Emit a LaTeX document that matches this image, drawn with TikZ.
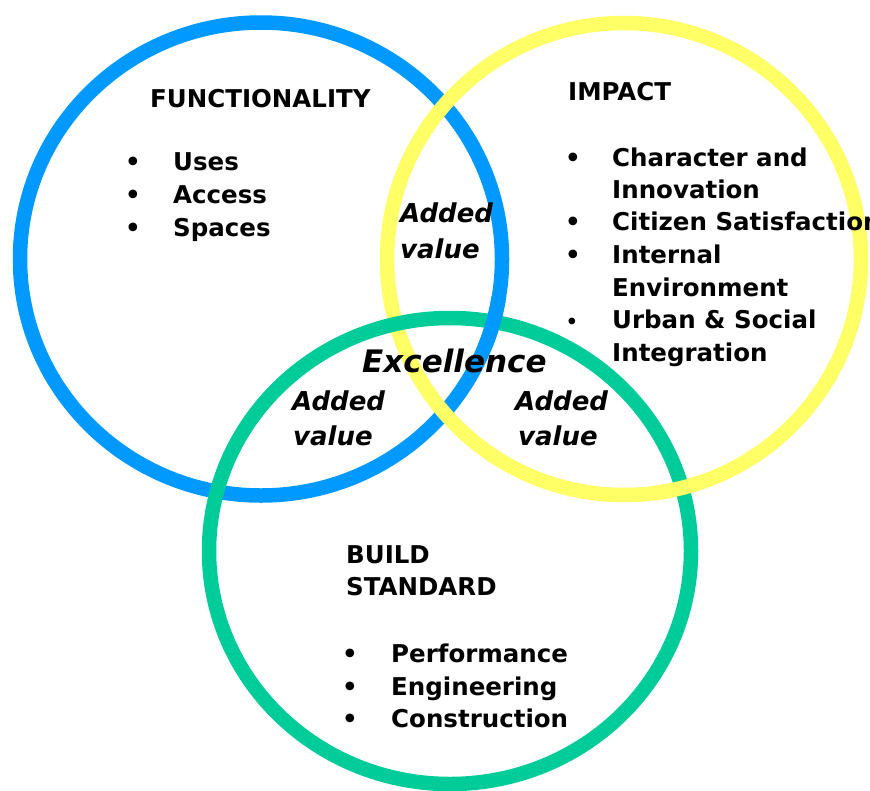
\documentclass[tikz,border=0pt]{standalone}
\usepackage{fontspec}
\setmainfont{DejaVu Sans}
\definecolor{ringblue}{RGB}{0,153,255}
\definecolor{ringyellow}{RGB}{255,255,102}
\definecolor{ringgreen}{RGB}{0,204,153}
\tikzset{
  ring/.style={line width=14.5pt},
  headtext/.style={anchor=base west, inner sep=0pt, font=\bfseries\fontsize{24.5}{33}\selectfont},
  itemtext/.style={anchor=base west, inner sep=0pt, font=\bfseries\fontsize{24.5}{33}\selectfont},
  bulletmark/.style={anchor=base, inner sep=0pt, font=\bfseries\fontsize{24.5}{33}\selectfont},
  addedtext/.style={anchor=base west, inner sep=0pt, font=\bfseries\itshape\fontsize{26}{36}\selectfont},
  excellencetext/.style={anchor=base west, inner sep=0pt, font=\bfseries\itshape\fontsize{31}{36}\selectfont}
}
\begin{document}
\begin{tikzpicture}[x=1pt,y=-1pt]
\useasboundingbox (0,0) rectangle (870,790);
% the three rings
\draw[ring, ringblue] (261,259) ellipse (241 and 236.5);
\draw[ring, ringyellow] (624,259) ellipse (237 and 236);
\draw[ring, ringgreen] (450,551) ellipse (241 and 233);
% crossings where the older ring lies on top
\begin{scope}
\clip (490,322) circle (26);
\draw[ring, ringblue] (261,259) ellipse (241 and 236.5);
\end{scope}
\begin{scope}
\clip (678,488) circle (26);
\draw[ring, ringyellow] (624,259) ellipse (237 and 236);
\end{scope}
% functionality
\node (funchead) [headtext] at (150,107) {FUNCTIONALITY};
\node (funcdot1) [bulletmark] at (133,170) {•};
\node (funcuses) [itemtext] at (173,170) {Uses};
\node (funcdot2) [bulletmark] at (133,203) {•};
\node (funcaccess) [itemtext] at (173,203) {Access};
\node (funcdot3) [bulletmark] at (133,236) {•};
\node (funcspaces) [itemtext] at (173,236) {Spaces};
% impact
\node (impacthead) [headtext] at (568,100) {IMPACT};
\node (impactdot1) [bulletmark] at (573,166) {•};
\node (impactchar) [itemtext] at (612,166) {Character and};
\node (impactinno) [itemtext] at (612,198) {Innovation};
\node (impactdot2) [bulletmark] at (573,230) {•};
\node (impactcitizen) [itemtext] at (612,230) {Citizen Satisfaction};
\node (impactdot3) [bulletmark] at (573,263) {•};
\node (impactinternal) [itemtext] at (612,263) {Internal};
\node (impactenv) [itemtext] at (612,296) {Environment};
\node (impactdot4) [bulletmark, font=\bfseries\fontsize{19}{33}\selectfont] at (572,328) {•};
\node (impacturban) [itemtext] at (612,328) {Urban \& Social};
\node (impactinteg) [itemtext] at (612,361) {Integration};
% build standard
\node (buildhead) [headtext] at (346,563) {BUILD};
\node (buildhead2) [headtext] at (346,595) {STANDARD};
\node (builddot1) [bulletmark] at (350,662) {•};
\node (buildperf) [itemtext] at (391,662) {Performance};
\node (builddot2) [bulletmark] at (350,695) {•};
\node (buildeng) [itemtext] at (391,695) {Engineering};
\node (builddot3) [bulletmark] at (350,727) {•};
\node (buildcons) [itemtext] at (391,727) {Construction};
% overlaps
\node (addedtop) [addedtext] at (400,222) {Added};
\node (valuetop) [addedtext] at (400,258) {value};
\node (addedleft) [addedtext] at (292,410) {Added};
\node (valueleft) [addedtext] at (293,445) {value};
\node (addedright) [addedtext] at (515,410) {Added};
\node (valueright) [addedtext] at (518,445) {value};
\node (excellence) [excellencetext] at (362,372) {Excellence};
\end{tikzpicture}
\end{document}
